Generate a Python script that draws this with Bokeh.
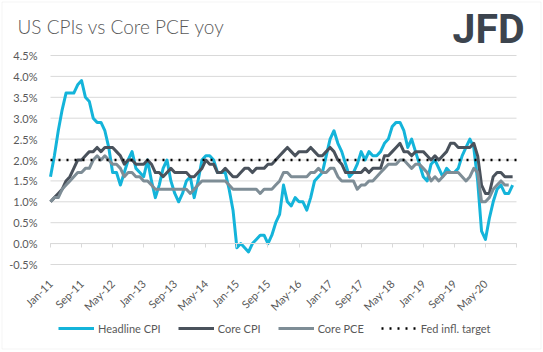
import math
from bokeh.plotting import figure
from bokeh.models import (Range1d, LinearAxis, FixedTicker, Legend, LegendItem,
                          Label, BoxAnnotation, CustomJSTickFormatter)
from bokeh.embed import file_html
from bokeh.resources import INLINE

# ---------------- data ----------------
tick_labels = ["Jan-11", "Sep-11", "May-12", "Jan-13", "Sep-13", "May-14", "Jan-15",
               "Sep-15", "May-16", "Jan-17", "Sep-17", "May-18", "Jan-19", "Sep-19", "May-20"]

headline_cpi = [
    1.6, 2.1, 2.7, 3.2, 3.6, 3.6, 3.6, 3.8, 3.9, 3.5, 3.4, 3.0,
    2.9, 2.9, 2.7, 2.3, 1.7, 1.7, 1.4, 1.7, 2.0, 2.2, 1.8, 1.7,
    1.6, 2.0, 1.5, 1.1, 1.4, 1.8, 2.0, 1.5, 1.2, 1.0, 1.2, 1.5,
    1.6, 1.1, 1.5, 2.0, 2.1, 2.1, 2.0, 1.7, 1.7, 1.7, 1.3, 0.8,
    -0.1, 0.0, -0.1, -0.2, 0.0, 0.1, 0.2, 0.2, 0.0, 0.2, 0.5, 0.7,
    1.4, 1.0, 0.9, 1.1, 1.0, 1.0, 0.8, 1.1, 1.5, 1.6, 1.7, 2.1,
    2.5, 2.7, 2.4, 2.2, 1.9, 1.6, 1.7, 1.9, 2.2, 2.0, 2.2, 2.1,
    2.1, 2.2, 2.4, 2.5, 2.8, 2.9, 2.9, 2.7, 2.3, 2.5, 2.2, 1.9,
    1.6, 1.5, 1.9, 2.0, 1.8, 1.6, 1.8, 1.7, 1.7, 1.8, 2.1, 2.3,
    2.5, 2.3, 1.5, 0.3, 0.1, 0.6, 1.0, 1.3, 1.4, 1.2, 1.2, 1.4]

core_cpi = [
    1.0, 1.1, 1.2, 1.3, 1.5, 1.6, 1.8, 2.0, 2.0, 2.1, 2.2, 2.2,
    2.3, 2.2, 2.3, 2.3, 2.3, 2.2, 2.1, 1.9, 2.0, 2.0, 1.9, 1.9,
    1.9, 2.0, 1.9, 1.7, 1.7, 1.6, 1.7, 1.8, 1.7, 1.7, 1.7, 1.7,
    1.6, 1.6, 1.7, 1.8, 2.0, 1.9, 1.9, 1.7, 1.7, 1.8, 1.7, 1.6,
    1.6, 1.7, 1.8, 1.8, 1.7, 1.8, 1.8, 1.8, 1.9, 1.9, 2.0, 2.1,
    2.2, 2.3, 2.2, 2.1, 2.2, 2.2, 2.2, 2.3, 2.2, 2.1, 2.1, 2.2,
    2.3, 2.2, 2.0, 1.9, 1.7, 1.7, 1.7, 1.7, 1.7, 1.8, 1.7, 1.8,
    1.8, 1.8, 2.1, 2.1, 2.2, 2.3, 2.4, 2.2, 2.2, 2.1, 2.2, 2.2,
    2.2, 2.1, 2.0, 2.1, 2.0, 2.1, 2.2, 2.4, 2.4, 2.3, 2.3, 2.3,
    2.3, 2.4, 2.1, 1.4, 1.2, 1.2, 1.6, 1.7, 1.7, 1.6, 1.6, 1.6]

core_pce = [
    1.0, 1.1, 1.1, 1.3, 1.4, 1.5, 1.6, 1.7, 1.7, 1.8, 1.8, 2.0,
    2.1, 2.0, 2.1, 2.0, 1.9, 1.9, 1.8, 1.6, 1.7, 1.7, 1.6, 1.6,
    1.5, 1.5, 1.4, 1.3, 1.3, 1.3, 1.3, 1.3, 1.3, 1.3, 1.3, 1.3,
    1.2, 1.3, 1.4, 1.5, 1.5, 1.5, 1.5, 1.5, 1.5, 1.5, 1.4, 1.3,
    1.3, 1.3, 1.3, 1.3, 1.3, 1.3, 1.2, 1.3, 1.3, 1.3, 1.4, 1.5,
    1.7, 1.7, 1.6, 1.6, 1.6, 1.6, 1.6, 1.7, 1.7, 1.8, 1.7, 1.7,
    1.8, 1.8, 1.6, 1.5, 1.5, 1.5, 1.5, 1.3, 1.4, 1.4, 1.5, 1.5,
    1.6, 1.7, 1.8, 1.9, 1.9, 1.9, 2.0, 2.0, 1.9, 1.8, 1.9, 1.9,
    1.8, 1.7, 1.5, 1.6, 1.5, 1.6, 1.7, 1.7, 1.7, 1.7, 1.6, 1.5,
    1.6, 1.8, 1.7, 1.0, 1.0, 1.1, 1.3, 1.4, 1.5, 1.4, 1.4]

fed_target = 2.0
y_ticks = [-0.5, 0.0, 0.5, 1.0, 1.5, 2.0, 2.5, 3.0, 3.5, 4.0, 4.5]
x_tick_step = 8            # months between date ticks
n_months_axis = 120        # Jan-11 .. Jan-21

months_cpi = list(range(len(headline_cpi)))
months_pce = list(range(len(core_pce)))
x_ticks = list(range(0, n_months_axis + 1, x_tick_step))

# ---------------- layout / styling ----------------
FONT = "Lato"
TXT = "#595959"
GRID = "#D9D9D9"
C_HEAD = "#14B4DA"
C_CORE = "#4A525C"
C_PCE = "#7E8D96"

W, H = 543, 352
PLOT_L, PLOT_R, PLOT_T, PLOT_B = 50, 516, 55, 264      # plot area in canvas pixels
px_x = (PLOT_R - PLOT_L) / n_months_axis
px_y = (PLOT_B - PLOT_T) / (y_ticks[-1] - y_ticks[0])
x_range = Range1d(-PLOT_L / px_x, n_months_axis + (W - PLOT_R) / px_x)
y_range = Range1d(y_ticks[0] - (H - PLOT_B) / px_y, y_ticks[-1] + PLOT_T / px_y)

p = figure(width=W, height=H, output_backend="svg", toolbar_location=None,
           x_range=x_range, y_range=y_range, title_location=None,
           x_axis_location=None, y_axis_location=None,
           min_border=0, min_border_left=0, min_border_right=0,
           min_border_top=0, min_border_bottom=0,
           background_fill_color="white", border_fill_color="white")
p.outline_line_color = None
p.grid.visible = False

# horizontal gridlines over the plot area only
p.segment(x0=[0] * len(y_ticks), x1=[n_months_axis] * len(y_ticks), y0=y_ticks, y1=y_ticks,
          line_color=GRID, line_width=1)

# y axis (labels only) at the left edge of the plot area
yaxis = LinearAxis(fixed_location=0, ticker=FixedTicker(ticks=y_ticks),
                   formatter=CustomJSTickFormatter(code="return tick.toFixed(1) + '%';"),
                   axis_line_color=None, major_tick_line_color=None, minor_tick_line_color=None,
                   major_label_text_font=FONT, major_label_text_font_size="11px",
                   major_label_text_color=TXT, major_label_standoff=7)
p.add_layout(yaxis, "left")

# date labels at the bottom of the plot area
overrides = {t: lab for t, lab in zip(x_ticks, tick_labels)}
overrides[n_months_axis] = ""
xaxis = LinearAxis(fixed_location=y_ticks[0], bounds=(0, n_months_axis),
                   ticker=FixedTicker(ticks=x_ticks), major_label_overrides=overrides,
                   axis_line_color=None, major_tick_line_color=None, minor_tick_line_color=None,
                   major_label_orientation=math.pi / 4,
                   major_label_text_font=FONT, major_label_text_font_size="11px",
                   major_label_text_color=TXT, major_label_standoff=11)
p.add_layout(xaxis, "below")

# axis line with tick marks at 0%
zero_axis = LinearAxis(fixed_location=0, bounds=(0, n_months_axis),
                       ticker=FixedTicker(ticks=x_ticks),
                       formatter=CustomJSTickFormatter(code="return '';"),
                       axis_line_color=GRID, major_tick_line_color=GRID,
                       major_tick_in=0, major_tick_out=4, minor_tick_line_color=None)
p.add_layout(zero_axis, "below")

r_head = p.line(months_cpi, headline_cpi, line_color=C_HEAD, line_width=3, line_join="round")
r_core = p.line(months_cpi, core_cpi, line_color=C_CORE, line_width=3, line_join="round")
r_pce = p.line(months_pce, core_pce, line_color=C_PCE, line_width=3, line_join="round")
r_fed = p.line([0, n_months_axis], [fed_target, fed_target], line_color="black",
               line_width=2.5, line_dash="2 6")

legend = Legend(items=[LegendItem(label="Headline CPI", renderers=[r_head]),
                       LegendItem(label="Core CPI", renderers=[r_core]),
                       LegendItem(label="Core PCE", renderers=[r_pce]),
                       LegendItem(label="Fed infl. target", renderers=[r_fed])],
                orientation="horizontal", location=(58, 14),
                label_text_font=FONT, label_text_font_size="11px", label_text_color=TXT,
                glyph_width=36, glyph_height=12, label_height=20, label_standoff=4, spacing=17,
                padding=0, margin=0, border_line_color=None, background_fill_alpha=0)
p.add_layout(legend)

title = Label(x=17, y=H - 26, x_units="screen", y_units="screen",
              text="US CPIs vs Core PCE yoy", text_font="Lato Light", text_font_size="19px",
              text_color=TXT, text_baseline="middle")
p.add_layout(title)

logo = Label(x=452, y=H - 28, x_units="screen", y_units="screen", text="JFD",
             text_font="Roboto", text_font_style="bold", text_font_size="41px",
             text_color="#3C444E", text_baseline="middle")
p.add_layout(logo)

border = BoxAnnotation(left=1.5, right=540.5, bottom=H - 348.5, top=H - 1.5,
                       left_units="screen", right_units="screen",
                       bottom_units="screen", top_units="screen",
                       fill_alpha=0, line_color=GRID, line_width=1)
p.add_layout(border)

open("out.html", "w").write(file_html(p, INLINE))
